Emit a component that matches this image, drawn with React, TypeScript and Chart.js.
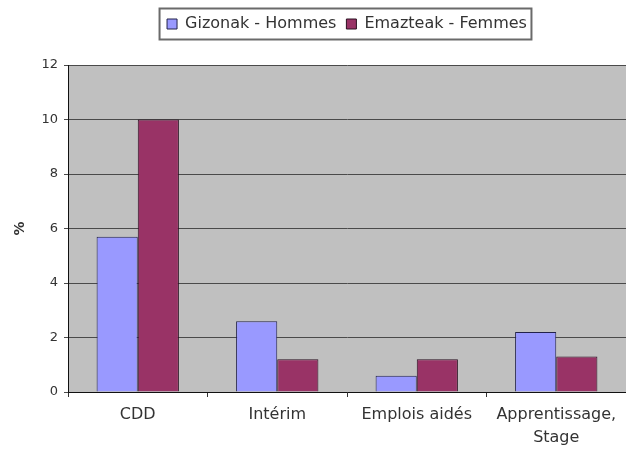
import React, { useEffect, useRef } from 'react';
import { Chart, registerables } from 'chart.js';

Chart.register(...registerables);

const categories: (string | string[])[] = ['CDD', 'Intérim', 'Emplois aidés', ['Apprentissage,', 'Stage']];
const hommes = [5.7, 2.6, 0.6, 2.2];
const femmes = [10.0, 1.2, 1.2, 1.3];
const seriesNames = ['Gizonak - Hommes', 'Emazteak - Femmes'];
const yTicks = { min: 0, max: 12, step: 2 };

const FONT = 'DejaVu Sans';
const TEXT = '#333333';

const bgPlugin = {
  id: 'plotBg',
  beforeDraw(chart: any) {
    const { ctx, chartArea } = chart;
    ctx.save();
    ctx.fillStyle = '#c0c0c0';
    ctx.fillRect(chartArea.left, chartArea.top, chartArea.right - chartArea.left, chartArea.bottom - chartArea.top);
    ctx.restore();
  },
};

const legendGap = {
  id: 'legendGap',
  beforeInit(chart: any) {
    const lg = chart.legend;
    if (!lg) return;
    const origFit = lg.fit;
    lg.fit = function () {
      origFit.call(this);
      this.height += 23;
    };
  },
  afterLayout(chart: any) {
    const lg = chart.legend;
    if (lg && chart.chartArea) {
      lg.left = chart.chartArea.left;
    }
  },
};

const legendBorder = {
  id: 'legendBorder',
  afterDraw(chart: any) {
    const lg = chart.legend;
    if (!lg || !lg.legendHitBoxes || !lg.legendHitBoxes.length) return;
    const hb = lg.legendHitBoxes;
    const left = hb[0].left - 8;
    const right = hb[hb.length - 1].left + hb[hb.length - 1].width + 4;
    const top = hb[0].top - 8;
    const bottom = hb[0].top + hb[0].height + 7;
    const ctx = chart.ctx;
    ctx.save();
    ctx.strokeStyle = '#6a6a6a';
    ctx.lineWidth = 2;
    ctx.strokeRect(left + 0.5, top + 0.5, right - left, bottom - top);
    ctx.restore();
  },
};

export default function App() {
  const ref = useRef<HTMLCanvasElement>(null);
  useEffect(() => {
    if (!ref.current) return;
    const chart = new Chart(ref.current, {
      type: 'bar',
      data: {
        labels: categories,
        datasets: [
          {
            label: seriesNames[0],
            data: hommes,
            backgroundColor: '#9999ff',
            borderColor: '#22224a',
            borderWidth: 1,
          },
          {
            label: seriesNames[1],
            data: femmes,
            backgroundColor: '#993366',
            borderColor: '#2a1020',
            borderWidth: 1,
          },
        ],
      },
      plugins: [bgPlugin, legendGap, legendBorder],
      options: {
        animation: false,
        responsive: true,
        maintainAspectRatio: false,
        layout: { padding: { top: 6, left: 0, right: 0, bottom: 0 } },
        datasets: { bar: { categoryPercentage: 0.59, barPercentage: 1 } },
        plugins: {
          tooltip: { enabled: false },
          legend: {
            position: 'top',
            labels: {
              boxWidth: 10,
              boxHeight: 10,
              padding: 10,
              color: TEXT,
              font: { family: FONT, size: 16 },
            },
          },
        },
        scales: {
          x: {
            grid: { display: true, drawOnChartArea: false, drawTicks: true, tickLength: 5, color: '#333', offset: true },
            border: { display: true, color: '#111', width: 1 },
            ticks: { color: TEXT, font: { family: FONT, size: 16, lineHeight: 1.45 }, padding: 6, maxRotation: 0, autoSkip: false },
            afterFit(scale: any) {
              scale.height = 59;
            },
          },
          y: {
            min: yTicks.min,
            max: yTicks.max,
            ticks: { stepSize: yTicks.step, color: TEXT, font: { family: FONT, size: 13 }, padding: 6 },
            grid: { color: '#4a4a4a', lineWidth: 1, tickLength: 4 },
            border: { display: true, color: '#111', width: 1 },
            title: { display: true, text: '%', color: TEXT, font: { family: FONT, size: 14, weight: 'bold' }, padding: { top: 12, bottom: 0 } },
            afterFit(scale: any) {
              scale.width = 68;
            },
          },
        },
      },
    } as any);
    return () => chart.destroy();
  }, []);
  return (
    <div style={{ position: 'fixed', left: 0, top: 0, width: 626, height: 451, background: '#fff', overflow: 'hidden' }}>
      <canvas ref={ref} />
    </div>
  );
}
